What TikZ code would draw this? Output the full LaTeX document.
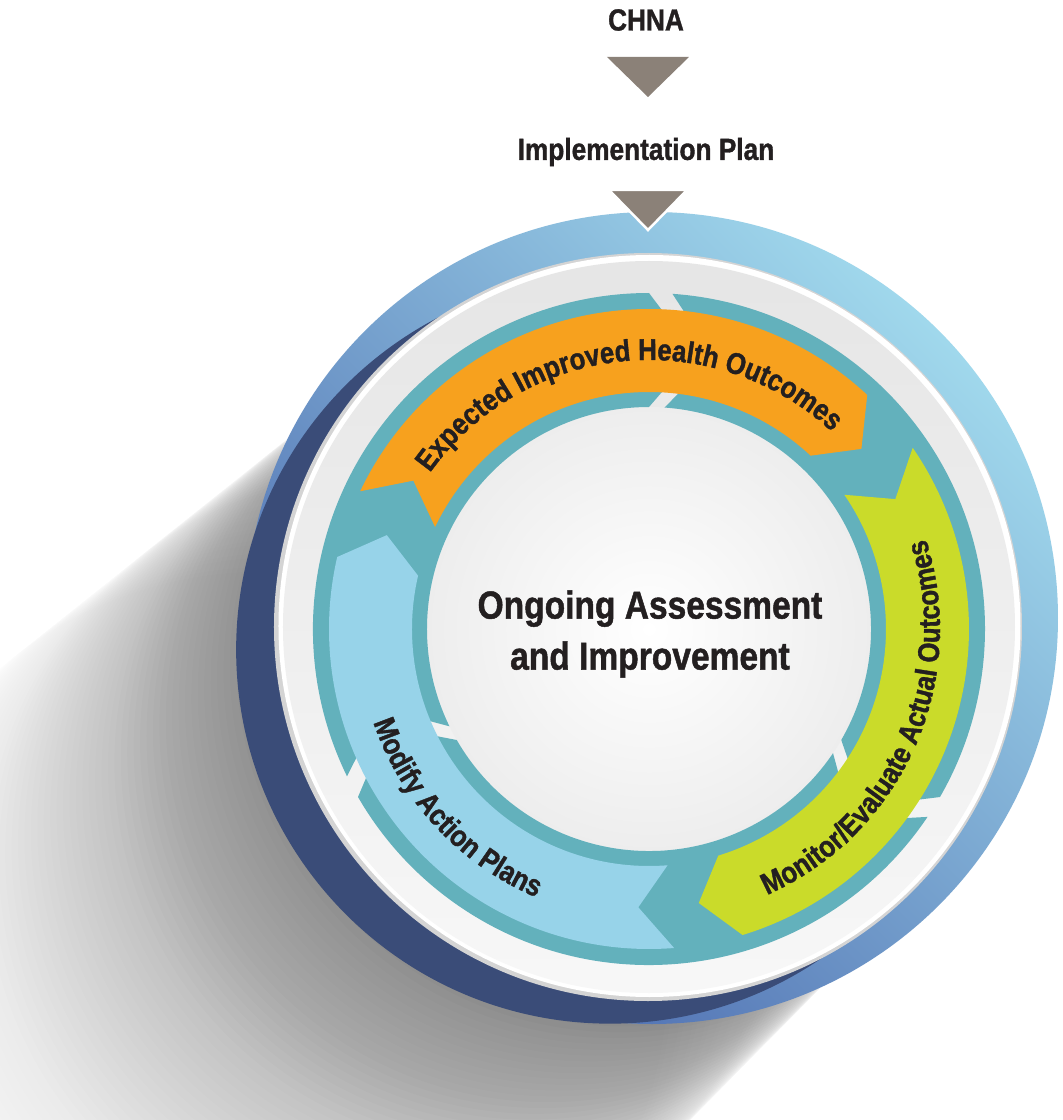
\documentclass[tikz,border=0pt]{standalone}
\usepackage{fontspec}
\newfontfamily\condfont{Liberation Sans}[FakeStretch=0.86, BoldFeatures={FakeBold=1.2}]
\usetikzlibrary{calc,decorations.text}

\definecolor{ringteal}{HTML}{63B1BC}
\definecolor{evalgreen}{HTML}{CADB2A}
\definecolor{healthorange}{HTML}{F7A11E}
\definecolor{planblue}{HTML}{97D3E9}
\definecolor{taupe}{HTML}{8B8178}
\definecolor{ink}{HTML}{231F20}
\definecolor{ringdark}{HTML}{4A68AE}
\definecolor{ringlight}{HTML}{A0D8EC}
\definecolor{navy}{HTML}{3A4C78}

\newcommand{\arcfont}{\condfont\bfseries\fontsize{30}{36}\selectfont}

% chevron arc: style, start angle, end angle, inner r, outer r, tip depth
\newcommand{\cycarrow}[6]{%
  \pgfmathsetmacro{\rmid}{(#4+#5)/2}%
  \fill[#1] (#2:#5) arc[start angle=#2, end angle=#3, radius=#5]
    -- ({#3-#6}:\rmid) -- (#3:#4) arc[start angle=#3, end angle=#2, radius=#4]
    -- ({#2-#6}:\rmid) -- cycle;}

\begin{document}
\begin{tikzpicture}[x=1pt,y=1pt,
    toptext/.style={font=\condfont\bfseries\fontsize{30.5}{34}\selectfont, text=ink},
    arrowtri/.style={fill=taupe},
    arclabel/.style={decorate, decoration={text along path, text align=center,
      text color=ink, text={|\arcfont|#1}}}]
    \useasboundingbox (-649,-491) rectangle (414,629);
    \clip (-649,-491) rectangle (414,629);
    \fill[white] (-649,-491) rectangle (414,629);

    % long shadow
    \foreach \t in {600,592,...,8}{
      \pgfmathsetmacro\shop{0.015*(1-\t/600)}
      \fill[black, fill opacity=\shop] (222:\t) circle[radius={374+0.06*\t}];
    }

    % outer ring
    \shade[bottom color=ringdark, top color=ringlight, shading angle=-45] (3,11) circle[radius=406];
    \fill[navy] (208:44) circle[radius=374];

    % plate
    \fill[black!17] (-1,2) circle[radius=374];
    \fill[white] (0.5,3) circle[radius=371];
    \shade[top color=black!10, bottom color=black!3] (0,2) circle[radius=366];
    \shade[inner color=white, outer color=black!7] (0,0) circle[radius=222];

    \cycarrow{ringteal}{206}{90}{222}{336}{9.5}
    \cycarrow{ringteal}{86}{-30}{222}{336}{9.5}
    \cycarrow{ringteal}{-34}{-150}{222}{336}{9.5}

    \cycarrow{healthorange}{154.5}{47}{237}{320}{6.7}
    \cycarrow{evalgreen}{34.5}{-73}{237}{320}{6.7}
    \cycarrow{planblue}{-85.5}{-193}{237}{320}{6.7}

    \path[arclabel={Expected Improved Health Outcomes}] (150.8:269) arc[start angle=150.8, end angle=40.8, radius=269];
    \path[arclabel={Monitor/Evaluate Actual Outcomes}] (-79:291) arc[start angle=-79, end angle=31, radius=291];
    \path[arclabel={Modify Action Plans}] (173:291) arc[start angle=173, end angle=273, radius=291];

    \node[font=\condfont\bfseries\fontsize{39}{51}\selectfont, align=center, text=ink] (core) at (1,-5)
      {Ongoing Assessment\\and Improvement};

    \node[toptext] (chna) at (-3,609) {CHNA};
    \node[toptext] (plan) at (-3,477) {Implementation Plan};
    \coordinate (tip1) at (-1,532);
    \coordinate (tip2) at (-1,399);
    \fill[arrowtri] (tip1) -- ++(-41,40) -- ++(82,0) -- cycle;
    \filldraw[arrowtri, draw=white, line width=2.5] (tip2) -- ++(-39,40) -- ++(78,0) -- cycle;
\end{tikzpicture}
\end{document}
